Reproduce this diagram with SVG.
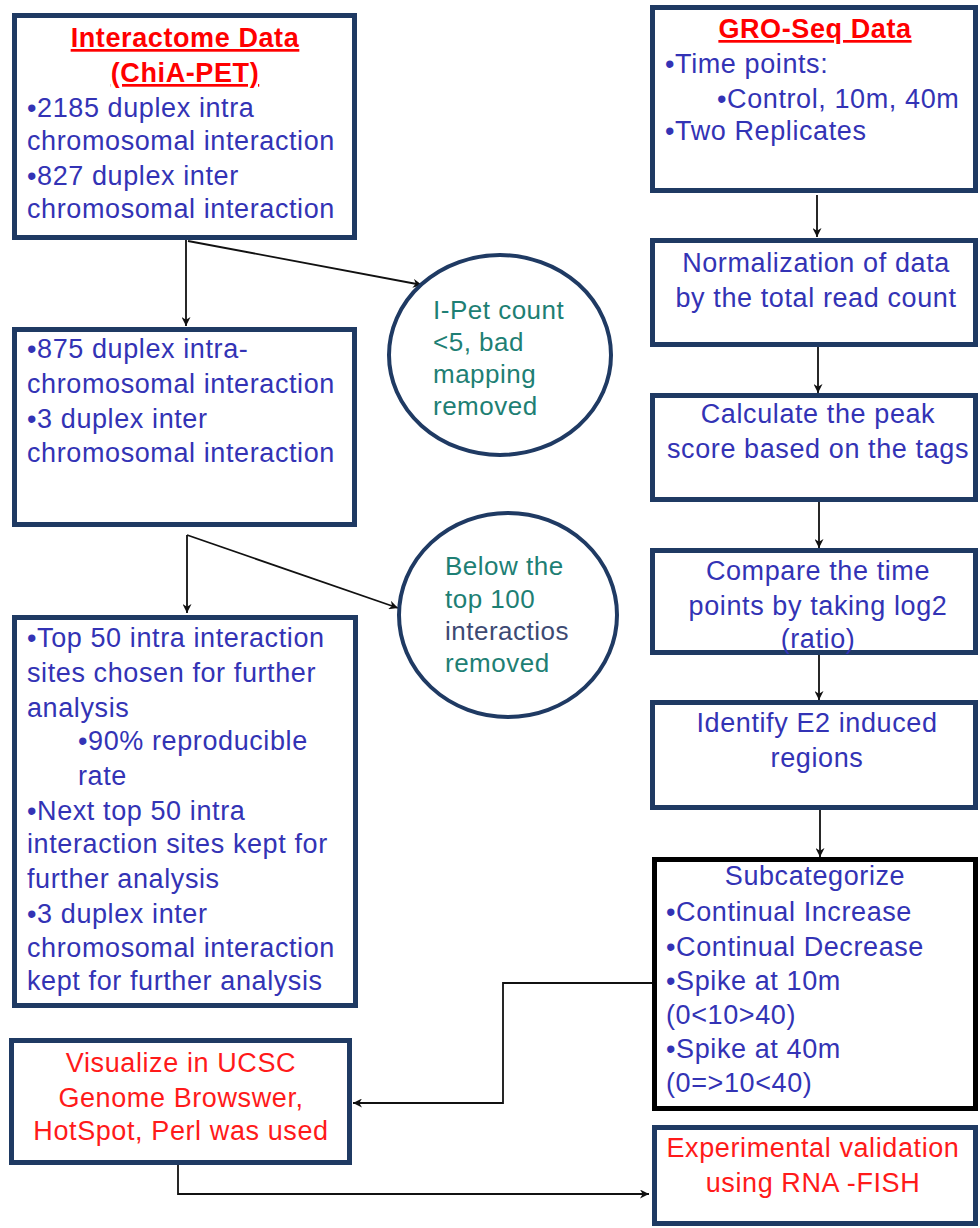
<svg xmlns="http://www.w3.org/2000/svg" width="980" height="1228" viewBox="0 0 980 1228">
<defs>
<style>
.box{fill:#ffffff;stroke:#1f3a63;stroke-width:5}
.boxk{fill:#ffffff;stroke:#000000;stroke-width:5}
.circ{fill:#ffffff;stroke:#1f3a63;stroke-width:4}
.con{fill:none;stroke:#111111;stroke-width:1.8}
text{font-family:"Liberation Sans",Arial,sans-serif;font-size:27px;letter-spacing:0.6px}
.b{fill:#3333b5}
.t{fill:#ff0000;font-weight:bold;text-decoration:underline}
.r{fill:#ff1a1a}
.g{fill:#1e7f74;font-size:26px;letter-spacing:0.5px}
.gd{fill:#3d4a73;font-size:26px;letter-spacing:0.5px}
.c{text-anchor:middle}
</style>
<marker id="arr" viewBox="0 0 10 10" refX="10" refY="5" markerWidth="9" markerHeight="9" markerUnits="userSpaceOnUse" orient="auto">
<path d="M0,0 L10,5 L0,10 L3,5 z" fill="#111111"/>
</marker>
</defs>
<rect width="980" height="1228" fill="#ffffff"/>

<g id="connectors">
<line class="con" x1="186" y1="240" x2="186" y2="326" marker-end="url(#arr)"/>
<line class="con" x1="188" y1="241" x2="422" y2="285" marker-end="url(#arr)"/>
<line class="con" x1="187" y1="535" x2="187" y2="613" marker-end="url(#arr)"/>
<line class="con" x1="187" y1="535" x2="398" y2="608" marker-end="url(#arr)"/>
<line class="con" x1="817" y1="195" x2="817" y2="237" marker-end="url(#arr)"/>
<line class="con" x1="818" y1="347" x2="818" y2="393" marker-end="url(#arr)"/>
<line class="con" x1="819" y1="502" x2="819" y2="548" marker-end="url(#arr)"/>
<line class="con" x1="819" y1="655" x2="819" y2="700" marker-end="url(#arr)"/>
<line class="con" x1="820" y1="810" x2="820" y2="857" marker-end="url(#arr)"/>
<polyline class="con" points="652,983 503,983 503,1103 353,1103" marker-end="url(#arr)"/>
<polyline class="con" points="178,1165 178,1194 649,1194" marker-end="url(#arr)"/>
</g>

<g id="interactome">
<rect class="box" x="14.5" y="15.5" width="340" height="222"/>
<text class="t c" x="185" y="47">Interactome Data</text>
<text class="t c" x="185" y="82">(ChiA-PET)</text>
<text class="b" x="27" y="117">•2185 duplex intra</text>
<text class="b" x="27" y="150">chromosomal interaction</text>
<text class="b" x="27" y="185">•827 duplex inter</text>
<text class="b" x="27" y="218">chromosomal interaction</text>
</g>

<g id="filtered">
<rect class="box" x="14.5" y="329.5" width="340" height="195"/>
<text class="b" x="27" y="358">•875 duplex intra-</text>
<text class="b" x="27" y="393">chromosomal interaction</text>
<text class="b" x="27" y="428">•3 duplex inter</text>
<text class="b" x="27" y="462">chromosomal interaction</text>
</g>

<g id="top50">
<rect class="box" x="14.5" y="617.5" width="341" height="388"/>
<text class="b" x="27" y="647">•Top 50 intra interaction</text>
<text class="b" x="27" y="682">sites chosen for further</text>
<text class="b" x="27" y="717">analysis</text>
<text class="b" x="78" y="750">•90% reproducible</text>
<text class="b" x="78" y="785">rate</text>
<text class="b" x="27" y="820">•Next top 50 intra</text>
<text class="b" x="27" y="853">interaction sites kept for</text>
<text class="b" x="27" y="888">further analysis</text>
<text class="b" x="27" y="923">•3 duplex inter</text>
<text class="b" x="27" y="957">chromosomal interaction</text>
<text class="b" x="27" y="990">kept for further analysis</text>
</g>

<g id="visualize">
<rect class="box" x="11.5" y="1040.5" width="338" height="122"/>
<text class="r c" x="181" y="1072">Visualize in UCSC</text>
<text class="r c" x="181" y="1107">Genome Browswer,</text>
<text class="r c" x="181" y="1140">HotSpot, Perl was used</text>
</g>

<g id="ipet">
<ellipse class="circ" cx="500" cy="355" rx="111" ry="100"/>
<text class="g" x="433" y="319">I-Pet count</text>
<text class="g" x="433" y="351">&lt;5, bad</text>
<text class="g" x="433" y="383">mapping</text>
<text class="g" x="433" y="415">removed</text>
</g>

<g id="below100">
<ellipse class="circ" cx="508" cy="615" rx="109" ry="102"/>
<text class="g" x="445" y="575">Below the</text>
<text class="g" x="445" y="608">top 100</text>
<text class="gd" x="445" y="640">interactios</text>
<text class="g" x="445" y="672">removed</text>
</g>

<g id="groseq">
<rect class="box" x="652.5" y="7.5" width="323" height="183"/>
<text class="t c" x="815" y="38">GRO-Seq Data</text>
<text class="b" x="665" y="73">•Time points:</text>
<text class="b" x="717" y="108">•Control, 10m, 40m</text>
<text class="b" x="665" y="140">•Two Replicates</text>
</g>

<g id="normalize">
<rect class="box" x="652.5" y="240.5" width="323" height="104"/>
<text class="b c" x="816" y="272">Normalization of data</text>
<text class="b c" x="816" y="307">by the total read count</text>
</g>

<g id="peak">
<rect class="box" x="652.5" y="395.5" width="323" height="104"/>
<text class="b c" x="818" y="423">Calculate the peak</text>
<text class="b c" x="818" y="458">score based on the tags</text>
</g>

<g id="compare">
<rect class="box" x="652.5" y="550.5" width="323" height="102"/>
<text class="b c" x="818" y="580">Compare the time</text>
<text class="b c" x="818" y="615">points by taking log2</text>
<text class="b c" x="818" y="648">(ratio)</text>
</g>

<g id="identify">
<rect class="box" x="652.5" y="702.5" width="323" height="105"/>
<text class="b c" x="817" y="732">Identify E2 induced</text>
<text class="b c" x="817" y="767">regions</text>
</g>

<g id="subcategorize">
<rect class="boxk" x="654.5" y="859.5" width="321" height="249"/>
<text class="b c" x="815" y="885">Subcategorize</text>
<text class="b" x="666" y="921">•Continual Increase</text>
<text class="b" x="666" y="956">•Continual Decrease</text>
<text class="b" x="666" y="990">•Spike at 10m</text>
<text class="b" x="666" y="1024">(0&lt;10&gt;40)</text>
<text class="b" x="666" y="1058">•Spike at 40m</text>
<text class="b" x="666" y="1092">(0=&gt;10&lt;40)</text>
</g>

<g id="validation">
<rect class="box" x="654.5" y="1127.5" width="321" height="96"/>
<text class="r c" x="813" y="1157">Experimental validation</text>
<text class="r c" x="813" y="1192">using RNA -FISH</text>
</g>
</svg>
